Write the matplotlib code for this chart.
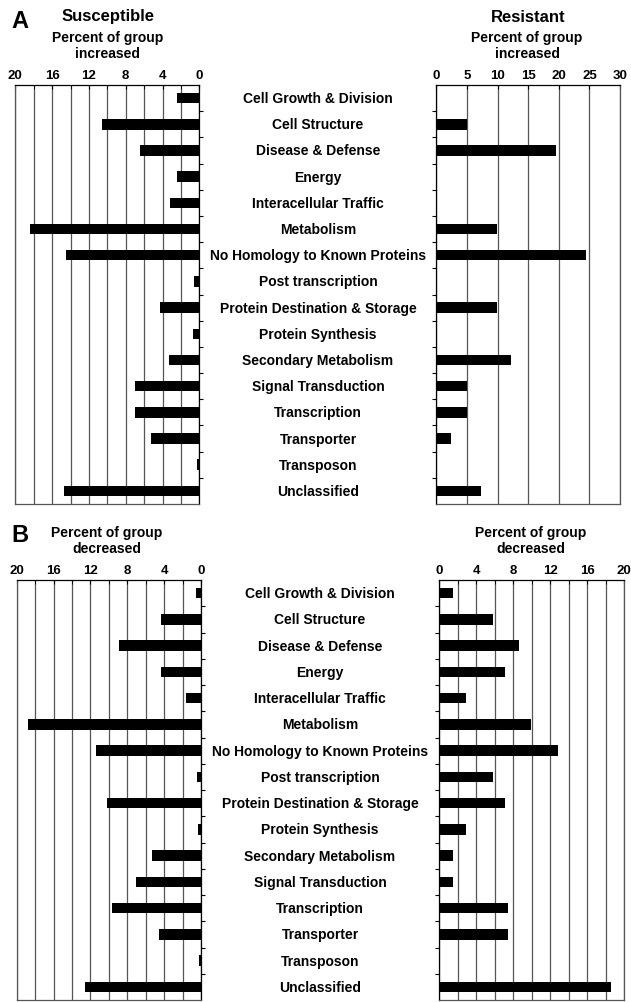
import matplotlib
matplotlib.use("Agg")
import matplotlib.pyplot as plt
import matplotlib.transforms as mtransforms
import numpy as np

plt.rcParams['font.family'] = ['Liberation Sans', 'DejaVu Sans']
plt.rcParams['font.weight'] = 'bold'

categories = [
    "Cell Growth & Division", "Cell Structure", "Disease & Defense", "Energy",
    "Interacellular Traffic", "Metabolism", "No Homology to Known Proteins",
    "Post transcription", "Protein Destination & Storage", "Protein Synthesis",
    "Secondary Metabolism", "Signal Transduction", "Transcription",
    "Transporter", "Transposon", "Unclassified",
]

# A: percent of group increased
sus_increased = [2.4, 10.6, 6.5, 2.4, 3.15, 18.4, 14.5, 0.55, 4.3, 0.7,
                 3.3, 7.0, 7.0, 5.25, 0.25, 14.7]
res_increased = [0, 5.0, 19.5, 0, 0, 9.9, 24.4, 0, 9.9, 0,
                 12.25, 5.0, 5.0, 2.4, 0, 7.3]

# B: percent of group decreased
sus_decreased = [0.5, 4.3, 8.9, 4.3, 1.6, 18.8, 11.4, 0.43, 10.2, 0.3,
                 5.35, 7.05, 9.7, 4.6, 0.2, 12.6]
res_decreased = [1.5, 5.8, 8.65, 7.15, 2.9, 9.9, 12.9, 5.8, 7.15, 2.9,
                 1.5, 1.5, 7.4, 7.4, 0, 18.55]

W, H = 631, 1003
fig = plt.figure(figsize=(W / 100, H / 100), dpi=100)


def rect(x0, y0, x1, y1):
    return [x0 / W, 1 - y1 / H, (x1 - x0) / W, (y1 - y0) / H]


def fx(x):
    return x / W


def fy(y):
    return 1 - y / H


y = np.arange(len(categories))
grid_col = '#555555'


def bar_panel(ax, values, xmax, major, minor, left_side):
    ax.barh(y, values, height=0.4, color='black')
    ax.set_ylim(len(categories) - 0.5, -0.5)
    if left_side:
        ax.set_xlim(xmax, 0)
    else:
        ax.set_xlim(0, xmax)
    ax.set_xticks(np.arange(0, xmax + 0.01, major))
    ax.set_xticks(np.arange(0, xmax + 0.01, minor), minor=True)
    ax.xaxis.tick_top()
    ax.tick_params(axis='x', which='both', direction='in', length=3,
                   labelsize=9.5, pad=3, colors='black')
    for lab in ax.get_xticklabels():
        lab.set_fontweight('bold')
    ax.grid(True, axis='x', which='both', color=grid_col, linewidth=0.9)
    ax.set_axisbelow(True)
    # category boundary ticks
    ax.set_yticks(np.arange(0.5, len(categories) - 1, 1.0))
    ax.set_yticklabels([])
    if left_side:
        ax.yaxis.tick_right()
    else:
        ax.yaxis.tick_left()
    ax.tick_params(axis='y', direction='out', length=3, width=0.8)
    for s in ax.spines.values():
        s.set_color(grid_col)
        s.set_linewidth(0.9)
    ax.spines['top'].set_color('black')
    ax.spines['right' if left_side else 'left'].set_color('black')


def add_labels(ax, xc):
    trans = mtransforms.blended_transform_factory(fig.transFigure, ax.transData)
    for i, c in enumerate(categories):
        ax.text(xc, i, c, transform=trans, ha='center', va='center',
                fontsize=10, fontweight='bold')


# Panel A
axA1 = fig.add_axes(rect(15.3, 86, 199.3, 505))
bar_panel(axA1, sus_increased, 20, 4, 2, True)
axA2 = fig.add_axes(rect(436.3, 86, 620, 505))
bar_panel(axA2, res_increased, 30, 5, 5, False)
add_labels(axA1, fx(318))

# Panel B
axB1 = fig.add_axes(rect(16.7, 581, 201, 1001))
bar_panel(axB1, sus_decreased, 20, 4, 2, True)
axB2 = fig.add_axes(rect(439.3, 581, 624, 1001))
bar_panel(axB2, res_decreased, 20, 4, 2, False)
add_labels(axB1, fx(320))

# headers
fig.text(fx(20), fy(22), "A", fontsize=17, fontweight='bold', ha='center', va='center')
fig.text(fx(108), fy(17), "Susceptible", fontsize=12, fontweight='bold', ha='center', va='center')
fig.text(fx(108), fy(38), "Percent of group", fontsize=10, fontweight='bold', ha='center', va='center')
fig.text(fx(108), fy(54), "increased", fontsize=10, fontweight='bold', ha='center', va='center')
fig.text(fx(528), fy(17), "Resistant", fontsize=12, fontweight='bold', ha='center', va='center')
fig.text(fx(527), fy(38), "Percent of group", fontsize=10, fontweight='bold', ha='center', va='center')
fig.text(fx(527), fy(54), "increased", fontsize=10, fontweight='bold', ha='center', va='center')

fig.text(fx(20), fy(536), "B", fontsize=17, fontweight='bold', ha='center', va='center')
fig.text(fx(107), fy(533), "Percent of group", fontsize=10, fontweight='bold', ha='center', va='center')
fig.text(fx(107), fy(549), "decreased", fontsize=10, fontweight='bold', ha='center', va='center')
fig.text(fx(531), fy(533), "Percent of group", fontsize=10, fontweight='bold', ha='center', va='center')
fig.text(fx(531), fy(549), "decreased", fontsize=10, fontweight='bold', ha='center', va='center')

fig.savefig("out.png", dpi=100)
